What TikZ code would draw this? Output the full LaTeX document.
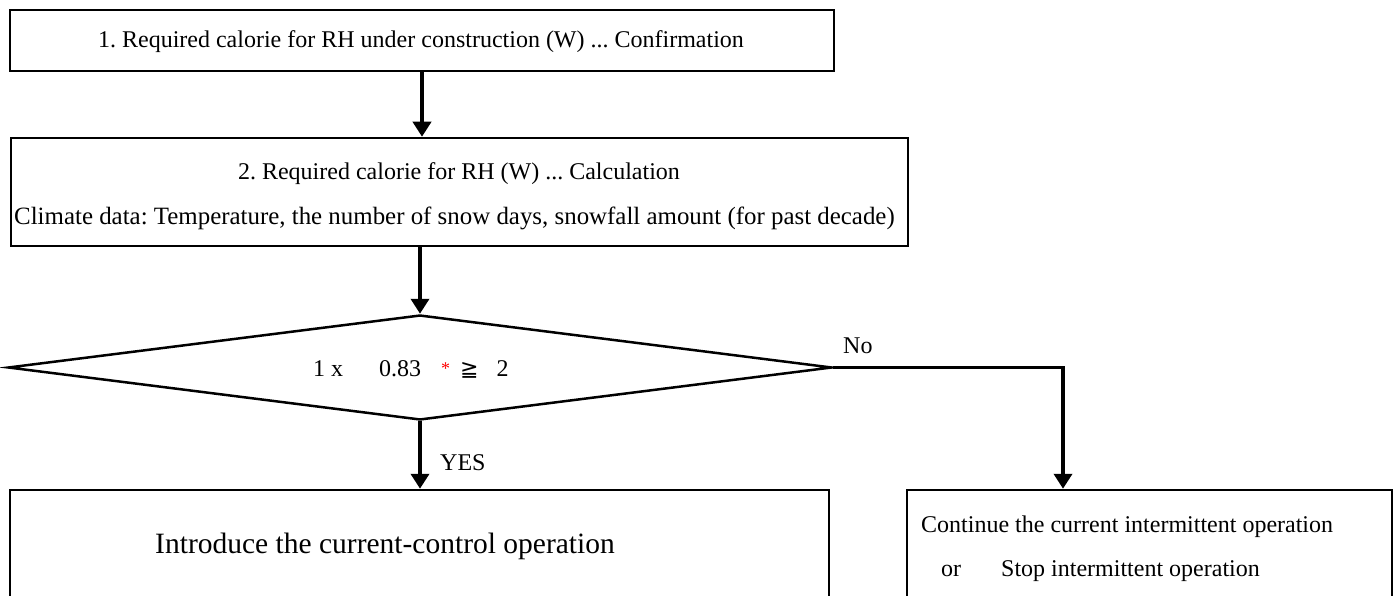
\documentclass[tikz,border=0pt]{standalone}
\usepackage{fontspec}
\setmainfont{Liberation Serif}
\newfontfamily\symfont{DejaVu Sans}
\usetikzlibrary{arrows.meta,shapes.geometric,calc}
\begin{document}
\frenchspacing
\begin{tikzpicture}[x=1pt,y=-1pt,
  box/.style={draw,line width=2.5pt,inner sep=0pt,rectangle},
  flow/.style={line width=4pt,-{Triangle[width=18pt,length=15pt]}},
  txt/.style={font=\fontsize{24}{28}\selectfont,inner sep=0pt},
  bigtxt/.style={font=\fontsize{29.5}{34}\selectfont,inner sep=0pt}]
\useasboundingbox (0,0) rectangle (1398,596);
% boxes
\node[box,minimum width=824pt,minimum height=61pt] (b1) at (422,40.5) {};
\node[box,minimum width=897pt,minimum height=108pt] (b2) at (459.5,192) {};
\node[draw,line width=2.5pt,shape=diamond,inner sep=0pt,minimum width=824pt,minimum height=105pt] (d) at (420,367.5) {};
\node[box,minimum width=819pt,minimum height=112pt] (b3) at (419.5,546) {};
\node[box,minimum width=485pt,minimum height=112pt] (b4) at (1149.5,546) {};
% texts
\node[txt,anchor=base] (t1) at (421,48) {1. Required calorie for RH under construction (W) ... Confirmation};
\node[txt,anchor=base] (t2a) at (459,180) {2. Required calorie for RH (W) ... Calculation};
\node[txt,font=\fontsize{24.9}{29}\selectfont,anchor=base west] (t2b) at (14,225) {Climate data: Temperature, the number of snow days, snowfall amount (for past decade)};
\node[txt,anchor=base west] (td) at (313,376) {1 x\hspace{36pt}0.83\hspace{20pt}{\color{red}\fontsize{18}{20}\selectfont\raisebox{2pt}{*}}\hspace{10pt}{\symfont\fontsize{22}{26}\selectfont ≧}\hspace{18pt}2};
\node[bigtxt,anchor=base] (t3) at (385,553) {Introduce the current-control operation};
\node[txt,anchor=base west] (t4a) at (921,532) {Continue the current intermittent operation};
\node[txt,anchor=base west] (t4b) at (941,576) {or\hspace{40pt}Stop intermittent operation};
\node[txt,anchor=base west] (lno) at (843,353) {No};
\node[txt,anchor=base west] (lyes) at (440,470) {YES};
% connectors
\coordinate (corner) at (1063,367.5);
\draw[flow] (b1.south) -- (b1.south |- b2.north);
\draw[flow] (b2.south -| d.north) -- (d.north);
\draw[flow] (d.south) -- (d.south |- b3.north);
\draw[line width=2.5pt] (d.east) -- (corner);
\draw[flow] ($(corner)+(0,-1.25)$) -- (corner |- b4.north);
\end{tikzpicture}
\end{document}
